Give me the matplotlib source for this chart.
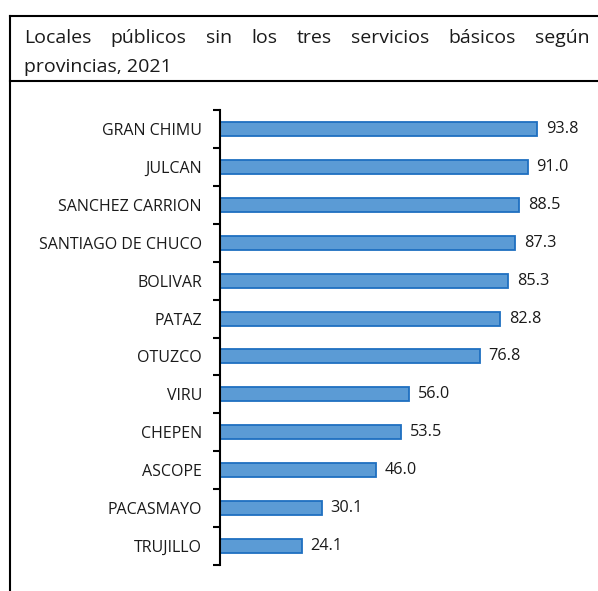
import matplotlib
matplotlib.use("Agg")
import matplotlib.pyplot as plt
from matplotlib.lines import Line2D

plt.rcParams['font.family'] = ['Open Sans', 'DejaVu Sans']

provincias = ["GRAN CHIMU", "JULCAN", "SANCHEZ CARRION", "SANTIAGO DE CHUCO",
              "BOLIVAR", "PATAZ", "OTUZCO", "VIRU", "CHEPEN", "ASCOPE",
              "PACASMAYO", "TRUJILLO"]
valores = [93.8, 91.0, 88.5, 87.3, 85.3, 82.8, 76.8, 56.0, 53.5, 46.0, 30.1, 24.1]

title_line1 = "Locales públicos sin los tres servicios básicos según"
title_line2 = "provincias, 2021"

W, H = 598, 591
fig = plt.figure(figsize=(W / 100, H / 100), dpi=100)


def px(x, y):
    # pixeles (origen arriba a la izquierda) -> coordenadas de figura
    return x / W, 1 - y / H


# marco: linea superior, separador del titulo y borde izquierdo
for (x0, y0), (x1, y1) in [((10, 16), (598, 16)), ((10, 81), (598, 81)), ((10, 16), (10, 591))]:
    a, b = px(x0, y0)
    c, d = px(x1, y1)
    fig.add_artist(Line2D([a, c], [b, d], color="black", lw=1.5, transform=fig.transFigure))

# titulo justificado (primera linea)
title_size = 14
renderer = fig.canvas.get_renderer()
words = title_line1.split()
texts = [fig.text(0, 0, w, fontsize=title_size, color="#1a1a1a") for w in words]
widths = [t.get_window_extent(renderer).width for t in texts]
left, right = 24, 590
gap = (right - left - sum(widths)) / (len(words) - 1)
x = left
for t, w in zip(texts, widths):
    t.set_position(px(x, 43))
    t.set_va("baseline")
    x += w + gap
fig.text(*px(left, 72), title_line2, fontsize=title_size, color="#1a1a1a", va="baseline")

# grafico de barras
ax = fig.add_axes([220 / W, 1 - 565 / H, 372 / W, (565 - 110) / H])
y = list(range(len(provincias)))
ax.barh(y, valores, height=0.37, color="#5B9BD5", edgecolor="#1F6FC0", linewidth=1.3)
ax.set_xlim(0, 110)
ax.set_ylim(len(provincias) - 0.5, -0.5)

for yi, v in zip(y, valores):
    ax.text(v + 2.6, yi, f"{v:.1f}", va="center", ha="left", fontsize=11.7, color="#1a1a1a")

ax.set_yticks(y)
ax.set_yticklabels(provincias, fontsize=11.5, color="#1a1a1a")
ax.tick_params(axis="y", which="major", length=0, pad=13)
ax.set_yticks([i - 0.5 for i in range(len(provincias) + 1)], minor=True)
ax.tick_params(axis="y", which="minor", length=5, width=1.5, direction="out")
ax.set_xticks([])
for s in ["top", "right", "bottom"]:
    ax.spines[s].set_visible(False)
ax.spines["left"].set_linewidth(1.5)

fig.savefig("out.png", dpi=100)
